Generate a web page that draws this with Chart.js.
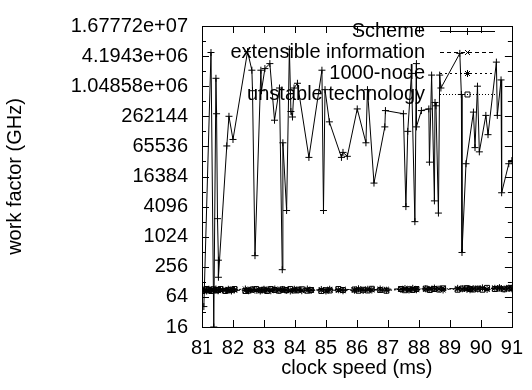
<!DOCTYPE html>
<html>
<head>
<meta charset="utf-8">
<script src="https://cdn.jsdelivr.net/npm/chart.js@4"></script>
<style>
  body { margin: 0; background: #fff; }
  #wrap { width: 532px; height: 390px; }
</style>
</head>
<body>
<div id="wrap"><canvas id="chart" width="532" height="390"></canvas></div>
<script>
// values
var seriesNames = ['Scheme', 'extensible information', '1000-node', 'unstable technology'];

var schemeX = [81.06, 81.29, 81.38, 81.45, 81.47, 81.5, 81.53, 81.53, 81.8, 81.87, 82.0, 82.47, 82.61, 82.63,
  82.71, 82.9, 82.92, 83.03, 83.19, 83.34, 83.5, 83.59, 83.61, 83.73, 83.82, 83.87, 83.92, 83.97, 84.08,
  84.45, 84.87, 84.92, 84.97, 85.11, 85.5, 85.55, 85.69, 86.01, 86.29, 86.34, 86.55, 86.9, 86.92, 87.5,
  87.58, 87.64, 87.76, 87.87, 87.92, 87.92, 88.08, 88.32, 88.34, 88.41, 88.5, 88.52, 88.55, 88.63, 88.67,
  88.71, 89.32, 89.37, 89.39, 89.52, 89.76, 89.81, 89.89, 89.95, 90.16, 90.23, 90.5, 90.53, 90.65, 90.67,
  90.9, 91.0];
var schemeY = [41, 4950000, 16, 1510000, 295000, 2350, 347, 158, 66900, 262000, 90200, 5160000, 2190000, 852000,
  428, 2190000, 852000, 2360000, 2970000, 219000, 965000, 224, 77400, 3420, 5770000, 327000, 254000, 965000, 1200000,
  39500, 2190000, 3420, 894000, 203000, 39500, 49700, 41500, 368000, 77400, 894000, 12100, 161000, 341000, 295000,
  4096, 131072, 1890000, 2048, 2970000, 161000, 341000, 368000, 31700, 1750000, 5330, 496000, 425000, 3040, 1750000,
  965000, 4750000, 716000, 495, 29500, 318000, 62000, 1048576, 51000, 273000, 112500, 3180000, 273000, 1400000, 7750,
  29500, 34100];

var lowX = [81.02, 81.08, 81.15, 81.22, 81.3, 81.36, 81.45, 81.52, 81.6, 81.75, 81.85, 81.95, 82.05,
  82.4, 82.5, 82.62, 82.75, 82.88, 83.0, 83.1, 83.22, 83.35, 83.48, 83.6, 83.72, 83.85, 83.98, 84.1, 84.22,
  84.4, 84.52, 84.85, 85.0, 85.12, 85.4, 85.55, 85.92, 86.05, 86.2, 86.35, 86.48, 86.75, 86.95,
  87.42, 87.55, 87.68, 87.8, 87.92, 88.22, 88.35, 88.5, 88.65, 88.78,
  89.25, 89.4, 89.55, 89.65, 89.75, 89.9, 90.05, 90.2, 90.45, 90.6, 90.75, 90.9, 91.0];
var extY = [86, 84, 88, 85, 90, 87, 84, 89, 86, 88, 85, 90, 87, 86, 89, 84, 88, 91, 85, 87, 90, 86, 88, 84, 89, 87,
  85, 90, 88, 86, 89, 87, 90, 88, 86, 91, 89, 87, 92, 88, 90, 86, 91, 93, 89, 92, 90, 94, 91, 95, 89, 93, 96, 92,
  90, 95, 93, 91, 96, 94, 92, 97, 93, 95, 98, 94];
var nodeY = [90, 87, 84, 91, 86, 89, 92, 85, 90, 86, 91, 84, 89, 92, 85, 90, 87, 84, 91, 88, 85, 92, 87, 90, 86, 84,
  91, 87, 85, 92, 86, 90, 84, 91, 89, 85, 87, 93, 86, 91, 88, 92, 87, 90, 94, 88, 95, 89, 93, 90, 96, 92, 88, 95,
  93, 91, 89, 94, 92, 97, 90, 95, 98, 92, 96, 93];
var techY = [84, 89, 92, 87, 84, 91, 86, 88, 92, 84, 87, 89, 92, 84, 86, 90, 92, 87, 89, 84, 92, 88, 85, 91, 88, 92,
  86, 89, 91, 85, 88, 84, 87, 86, 92, 88, 90, 85, 89, 86, 93, 88, 85, 92, 87, 91, 88, 92, 94, 88, 92, 90, 95, 89,
  94, 96, 92, 90, 93, 89, 97, 92, 94, 91, 95, 97];

var yTicks = [16, 64, 256, 1024, 4096, 16384, 65536, 262144, 1048576, 4194304, 16777216];
var yMinorTicks = [32, 128, 512, 2048, 8192, 32768, 131072, 524288, 2097152, 8388608];
var xTicks = [81, 82, 83, 84, 85, 86, 87, 88, 89, 90, 91];

function pts(xs, ys) {
  return xs.map(function (x, i) { return { x: x, y: ys[i] }; });
}

// gnuplot style %g labels
function fmtG(v) {
  if (v < 1e6) return String(v);
  var parts = v.toExponential(5).split('e');
  var m = parts[0].replace(/\.?0+$/, '');
  var e = parseInt(parts[1], 10);
  return m + 'e' + (e < 0 ? '-' : '+') + String(Math.abs(e)).padStart(2, '0');
}

Chart.defaults.font.family = '"Liberation Sans", Arial, sans-serif';
Chart.defaults.font.size = 20;
Chart.defaults.color = '#000';

// frame, inward tick marks and the gnuplot-like key
var framePlugin = {
  id: 'frame',
  afterDraw: function (chart) {
    var ctx = chart.ctx, a = chart.chartArea;
    var xs = chart.scales.x, ys = chart.scales.y;
    ctx.save();
    ctx.strokeStyle = '#000';
    ctx.lineWidth = 1;
    ctx.setLineDash([]);
    ctx.beginPath();
    xTicks.forEach(function (t) {
      var px = Math.round(xs.getPixelForValue(t)) + 0.5;
      ctx.moveTo(px, a.bottom); ctx.lineTo(px, a.bottom - 7);
      ctx.moveTo(px, a.top); ctx.lineTo(px, a.top + 7);
    });
    yTicks.forEach(function (t) {
      var py = Math.round(ys.getPixelForValue(t)) + 0.5;
      ctx.moveTo(a.left, py); ctx.lineTo(a.left + 7, py);
      ctx.moveTo(a.right, py); ctx.lineTo(a.right - 7, py);
    });
    yMinorTicks.forEach(function (t) {
      var py = Math.round(ys.getPixelForValue(t)) + 0.5;
      ctx.moveTo(a.left, py); ctx.lineTo(a.left + 4, py);
      ctx.moveTo(a.right, py); ctx.lineTo(a.right - 4, py);
    });
    ctx.stroke();
    ctx.strokeRect(Math.round(a.left) + 0.5, Math.round(a.top) + 0.5,
      Math.round(a.right - a.left), Math.round(a.bottom - a.top));

    // key
    ctx.font = '20px "Liberation Sans", Arial, sans-serif';
    ctx.textAlign = 'right';
    ctx.textBaseline = 'middle';
    chart.data.datasets.forEach(function (ds, i) {
      var y = 31 + i * 21;
      ctx.fillStyle = '#000';
      ctx.fillText(ds.label, 425, y);
      ctx.strokeStyle = ds.borderColor;
      ctx.lineWidth = 1;
      ctx.setLineDash(ds.borderDash || []);
      ctx.beginPath();
      ctx.moveTo(440, y + 0.5); ctx.lineTo(495, y + 0.5);
      ctx.stroke();
      ctx.setLineDash([]);
      ctx.fillStyle = 'rgba(0,0,0,0)';
      Chart.helpers.drawPoint(ctx, {
        pointStyle: ds.pointStyle, radius: ds.pointRadius, rotation: 0, borderWidth: 1
      }, 467.5, y + 0.5);
    });
    ctx.restore();
  }
};

var ctx = document.getElementById('chart').getContext('2d');
var myChart = new Chart(ctx, {
  type: 'line',
  data: {
    datasets: [{
      label: seriesNames[0],
      data: pts(schemeX, schemeY),
      borderColor: '#000',
      backgroundColor: 'rgba(0,0,0,0)',
      borderWidth: 1,
      pointStyle: 'cross',
      pointRadius: 3.5,
      pointBorderWidth: 1
    }, {
      label: seriesNames[1],
      data: pts(lowX, extY),
      borderColor: '#000',
      backgroundColor: 'rgba(0,0,0,0)',
      borderWidth: 1,
      borderDash: [4, 3],
      pointStyle: 'crossRot',
      pointRadius: 3.5,
      pointBorderWidth: 1
    }, {
      label: seriesNames[2],
      data: pts(lowX, nodeY),
      borderColor: '#000',
      backgroundColor: 'rgba(0,0,0,0)',
      borderWidth: 1,
      borderDash: [2, 3],
      pointStyle: 'star',
      pointRadius: 3.5,
      pointBorderWidth: 1
    }, {
      label: seriesNames[3],
      data: pts(lowX, techY),
      borderColor: '#000',
      backgroundColor: 'rgba(0,0,0,0)',
      borderWidth: 1,
      borderDash: [1, 2],
      pointStyle: 'rect',
      pointRadius: 3.5,
      pointBorderWidth: 1
    }]
  },
  options: {
    responsive: false,
    animation: false,
    layout: { padding: { top: 16, right: 12, left: 0, bottom: 0 } },
    plugins: { legend: { display: false }, tooltip: { enabled: false } },
    elements: { line: { tension: 0 } },
    scales: {
      x: {
        type: 'linear',
        min: 81, max: 91,
        afterBuildTicks: function (s) { s.ticks = xTicks.map(function (v) { return { value: v }; }); },
        afterFit: function (s) { s.height = 63; },
        grid: { display: false, drawTicks: false },
        border: { display: false },
        ticks: { padding: 9, maxRotation: 0 },
        title: { display: true, text: 'clock speed (ms)', padding: { top: 0, bottom: 10 } }
      },
      y: {
        type: 'logarithmic',
        min: 16, max: 16777216,
        afterBuildTicks: function (s) { s.ticks = yTicks.map(function (v) { return { value: v }; }); },
        afterFit: function (s) { s.width = 202; },
        grid: { display: false, drawTicks: false },
        border: { display: false },
        ticks: { padding: 14, callback: function (v) { return fmtG(v); } },
        title: { display: true, text: 'work factor (GHz)', padding: { top: 3, bottom: 0 } }
      }
    }
  },
  plugins: [framePlugin]
});
</script>
</body>
</html>
